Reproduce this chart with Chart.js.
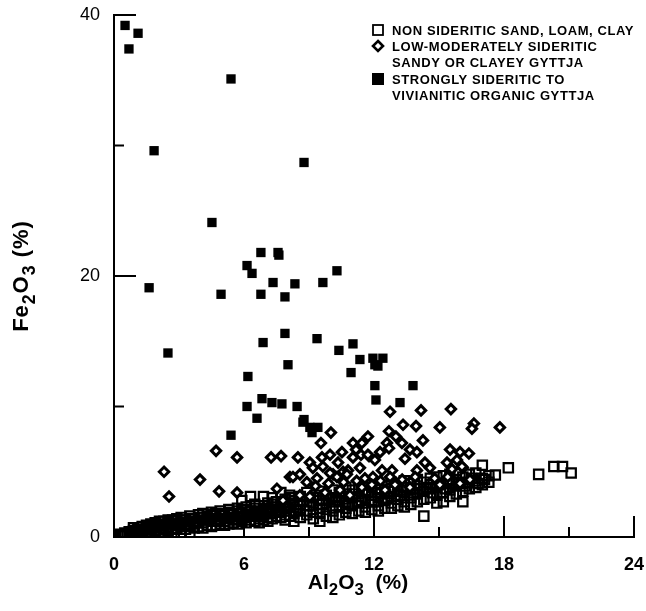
<!DOCTYPE html>
<html>
<head>
<meta charset="utf-8">
<script src="https://cdn.jsdelivr.net/npm/chart.js@4.4.0/dist/chart.umd.min.js"></script>
<style>
  html, body { margin: 0; padding: 0; background: #fff; }
  #wrap { width: 646px; height: 611px; }
</style>
</head>
<body>
<div id="wrap"><canvas id="chart" width="646" height="611"></canvas></div>
<script>
// DATA

const legendLabels = [
    ["NON SIDERITIC SAND, LOAM, CLAY"],
    ["LOW-MODERATELY SIDERITIC", "SANDY OR CLAYEY GYTTJA"],
    ["STRONGLY SIDERITIC TO", "VIVIANITIC ORGANIC GYTTJA"]
];
const xMajorTicks = [0, 6, 12, 18, 24];
const xMinorTicks = [3, 9, 15, 21];
const yMajorTicks = [0, 20, 40];
const yMinorTicks = [10, 30];

// open squares: Al2O3, Fe2O3
const nonSideritic = [
    [0.3,0.1],[0.3,0.2],[0.5,0.1],[0.5,0.3],[0.7,0.2],[0.7,0.4],[0.9,0.2],[0.9,0.5],[0.9,0.7],
    [1.1,0.3],[1.1,0.6],[1.3,0.3],[1.3,0.5],[1.3,0.8],[1.5,0.4],[1.5,0.7],[1.5,0.9],
    [1.7,0.4],[1.7,0.6],[1.7,1.0],[1.9,0.5],[1.9,0.8],[1.9,1.1],[2.1,0.4],[2.1,0.7],[2.1,1.2],
    [2.3,0.6],[2.3,0.9],[2.3,1.2],[2.5,0.5],[2.5,0.8],[2.5,1.1],[2.5,1.3],[2.7,0.6],[2.7,1.0],[2.7,1.3],
    [2.9,0.7],[2.9,0.9],[2.9,1.4],[3.1,0.3],[3.1,0.8],[3.1,1.1],[3.1,1.5],[3.3,0.6],[3.3,1.0],[3.3,1.3],
    [3.5,0.3],[3.5,0.8],[3.5,1.2],[3.5,1.6],[3.7,0.7],[3.7,1.0],[3.7,1.4],[3.9,0.8],[3.9,1.2],[3.9,1.7],
    [4.1,0.7],[4.1,1.1],[4.1,1.5],[4.1,1.8],[4.3,0.9],[4.3,1.3],[4.3,1.6],[4.5,0.8],[4.5,1.2],[4.5,1.7],[4.5,1.9],
    [4.7,0.9],[4.7,1.4],[4.7,1.8],[4.9,1.0],[4.9,1.3],[4.9,1.6],[4.9,2.0],[5.1,0.9],[5.1,1.2],[5.1,1.7],
    [5.3,1.0],[5.3,1.5],[5.3,1.9],[5.3,2.1],[5.5,1.1],[5.5,1.4],[5.5,1.8],[5.7,1.0],[5.7,1.6],[5.7,2.0],[5.7,2.2],
    [5.9,1.2],[5.9,1.5],[5.9,1.9],[5.9,2.8],[6.1,1.1],[6.1,1.7],[6.1,2.1],[6.1,2.3],[6.3,1.3],[6.3,1.6],[6.3,2.0],[6.3,3.1],
    [6.5,1.2],[6.5,1.8],[6.5,2.2],[6.5,2.5],[6.7,1.4],[6.7,1.1],[6.7,1.9],[6.7,2.4],[6.9,1.3],[6.9,1.7],[6.9,2.1],[6.9,3.1],
    [7.1,1.5],[7.1,1.2],[7.1,2.0],[7.1,2.6],[7.3,1.4],[7.3,1.8],[7.3,2.3],[7.3,3.0],[7.5,1.6],[7.5,2.1],[7.5,2.7],
    [7.7,1.5],[7.7,1.9],[7.7,2.4],[7.7,3.4],[7.9,1.3],[7.9,1.7],[7.9,2.2],[7.9,2.9],[8.1,1.6],[8.1,2.0],[8.1,2.6],[8.1,3.2],
    [8.3,1.2],[8.3,1.8],[8.3,2.3],[8.3,2.8],[8.6,1.5],[8.6,2.1],[8.6,2.5],[8.6,3.1],[8.9,1.7],[8.9,2.0],[8.9,2.7],[8.9,3.4],
    [9.2,1.4],[9.2,1.9],[9.2,2.4],[9.2,3.0],[9.5,1.2],[9.5,1.8],[9.5,2.2],[9.5,2.8],[9.5,3.5],[9.8,1.6],[9.8,2.1],[9.8,2.6],[9.8,3.2],
    [10.1,1.5],[10.1,2.0],[10.1,2.4],[10.1,3.0],[10.1,3.6],[10.4,1.7],[10.4,2.3],[10.4,2.8],[10.4,3.4],
    [10.7,1.9],[10.7,2.2],[10.7,2.7],[10.7,3.3],[10.7,3.8],[11.0,1.8],[11.0,2.4],[11.0,3.0],[11.0,3.6],
    [11.3,2.0],[11.3,2.6],[11.3,3.1],[11.3,3.7],[11.6,1.9],[11.6,2.3],[11.6,2.9],[11.6,3.5],[11.6,4.0],
    [11.9,2.1],[11.9,2.7],[11.9,3.2],[11.9,3.8],[12.2,2.0],[12.2,2.4],[12.2,3.0],[12.2,3.6],[12.2,4.1],
    [12.5,2.2],[12.5,2.8],[12.5,3.4],[12.5,3.9],[12.8,2.2],[12.8,2.6],[12.8,3.1],[12.8,3.7],[12.8,4.2],
    [13.1,2.4],[13.1,2.9],[13.1,3.5],[13.1,4.0],[13.4,2.3],[13.4,2.7],[13.4,3.2],[13.4,3.8],[13.4,4.3],
    [13.7,2.5],[13.7,3.0],[13.7,3.6],[13.7,4.1],[14.0,2.7],[14.0,3.3],[14.0,3.9],[14.0,4.4],
    [14.3,1.6],[14.3,2.9],[14.3,3.5],[14.3,4.2],[14.6,3.0],[14.6,3.7],[14.6,4.0],[14.6,4.5],
    [14.9,2.6],[14.9,3.2],[14.9,3.8],[14.9,4.6],[15.2,2.7],[15.2,3.4],[15.2,4.1],[15.2,4.7],
    [15.5,3.1],[15.5,3.6],[15.5,4.3],[15.5,4.8],[15.8,3.3],[15.8,3.9],[15.8,4.4],[15.8,4.9],
    [16.1,2.7],[16.1,3.5],[16.1,4.1],[16.1,4.6],[16.4,3.7],[16.4,4.2],[16.4,4.8],[16.7,3.8],[16.7,4.3],[16.7,4.9],
    [17.0,4.0],[17.0,4.5],[17.0,5.5],[17.3,4.2],[17.3,4.7],[17.6,4.75],
    [18.2,5.3],[19.6,4.8],[20.3,5.4],[20.7,5.4],[21.1,4.9],
    [0.4,0.15],[0.6,0.25],[0.8,0.35],[1.0,0.4],[1.2,0.5],[1.4,0.6],[1.6,0.8],[1.8,0.7],[2.0,0.9],[2.2,1.0],
    [2.4,0.7],[2.6,1.0],[2.8,1.2],[3.0,1.0],[3.2,1.3],[3.4,0.9],[3.6,1.4],[3.8,1.1],[4.0,1.5],[4.2,1.3],
    [4.4,1.4],[4.6,1.6],[4.8,1.2],[5.0,1.8],[5.2,1.4],[5.4,1.7],[5.6,1.3],[5.8,1.8],[6.0,1.5],[6.2,1.9],
    [6.4,1.7],[6.6,2.0],[6.8,1.6],[7.0,2.2],[7.2,1.8],[7.4,2.5],[7.6,2.0],[7.8,2.6],[8.0,2.3],[8.2,3.0],
    [8.4,2.0],[8.7,2.8],[9.0,2.4],[9.3,3.2],[9.6,2.5],[9.9,2.9],[10.2,2.7],[10.5,3.1],[10.8,2.5],[11.1,3.3],
    [11.4,2.8],[11.7,3.4],[12.0,2.7],[12.3,3.3],[12.6,3.0],[12.9,3.5],[13.2,3.2],[13.5,3.6],[13.8,3.4],[14.1,3.7],
    [14.4,3.8],[14.7,3.4],[15.0,4.0],[15.3,3.7],[15.6,4.1],[15.9,4.2],[16.2,3.9],[16.5,4.5],[16.8,4.1],[17.1,4.4]
];

// open diamonds
const lowModSideritic = [
    [4.71,6.6],[5.68,6.1],[2.31,5.0],[3.97,4.4],[2.54,3.1],[4.85,3.5],[5.68,3.4],[7.25,6.1],[7.71,6.2],
    [8.12,4.6],[7.52,3.7],[8.49,6.1],[12.74,9.6],[14.17,9.7],[15.55,9.8],[13.34,8.6],[13.94,8.5],
    [15.04,8.4],[16.61,8.7],[16.52,8.3],[10.01,8.0],[9.55,7.2],[10.52,6.5],[11.03,7.2],[11.44,7.2],
    [11.72,7.7],[12.69,8.1],[13.01,7.7],[12.60,7.2],[13.29,7.2],[14.26,7.4],[11.17,6.7],[11.40,6.3],
    [11.77,6.2],[12.28,6.5],[12.69,6.8],[13.66,6.7],[13.98,6.5],[15.51,6.7],[15.97,6.5],[16.38,6.4],
    [9.04,5.7],[9.60,6.1],[9.97,6.3],[10.34,5.7],[11.03,6.1],[11.72,6.3],[12.04,5.9],[13.43,6.0],
    [14.35,5.7],[15.37,5.7],[15.83,5.9],[16.10,5.3],[15.60,5.2],[9.18,5.3],[9.64,5.4],[10.11,4.8],
    [10.57,5.0],[10.80,5.1],[11.35,5.3],[12.37,5.1],[12.83,5.1],[13.98,5.1],[14.58,5.3],[8.26,4.6],
    [8.58,4.8],[9.37,4.5],[9.97,4.9],[10.29,4.6],[10.75,4.8],[11.58,4.5],[12.74,4.6],[11.95,4.6],
    [17.81,8.4],[16.06,5.4],[7.80,2.8],[8.58,3.2],[9.04,3.1],[9.74,3.4],[10.43,3.6],[10.89,3.2],
    [11.44,3.8],[12.51,3.6],[12.97,4.0],[13.66,3.8],[15.04,4.0],[15.97,4.1],[16.43,4.4],
    [8.9,4.2],[9.3,3.9],[9.9,4.1],[10.6,4.2],[11.2,4.3],[11.9,4.0],[12.3,4.3],[13.3,4.4],[13.9,4.6],
    [14.8,4.5],[15.4,4.6]
];

// filled squares
const strongSideritic = [
    [0.51,39.2],[1.11,38.6],[0.69,37.4],[5.40,35.1],[1.85,29.6],[8.77,28.7],[4.52,24.1],[1.62,19.1],
    [4.94,18.6],[6.78,21.8],[7.57,21.8],[7.61,21.6],[6.14,20.8],[6.37,20.2],[7.34,19.5],[8.35,19.4],
    [9.64,19.5],[10.29,20.4],[6.78,18.6],[7.89,18.4],[6.88,14.9],[7.89,15.6],[9.37,15.2],[10.38,14.3],
    [11.03,14.8],[11.35,13.6],[11.95,13.7],[12.41,13.7],[12.04,13.2],[12.18,13.1],[8.03,13.2],
    [10.94,12.6],[6.18,12.3],[12.04,11.6],[13.80,11.6],[12.09,10.5],[13.20,10.3],[6.14,10.0],
    [6.83,10.6],[7.29,10.3],[7.75,10.2],[8.45,10.0],[6.60,9.1],[8.77,9.0],[2.49,14.1],[5.40,7.8],
    [8.72,8.8],[9.04,8.4],[9.41,8.4],[9.14,8.0]
];

function toPoints(list) {
    return list.map(p => ({ x: p[0], y: p[1] }));
}

const FONT = "'Liberation Sans', Arial, Helvetica, sans-serif";

// draws text with subscript parts
function drawRich(ctx, parts, x, y, size) {
    let cx = x;
    parts.forEach(p => {
        const s = p.sub ? size * 0.8 : size;
        ctx.font = "bold " + s + "px " + FONT;
        ctx.fillText(p.t, cx, p.sub ? y + size * 0.35 : y);
        cx += ctx.measureText(p.t).width;
    });
}

function richWidth(ctx, parts, size) {
    let w = 0;
    parts.forEach(p => {
        const s = p.sub ? size * 0.8 : size;
        ctx.font = "bold " + s + "px " + FONT;
        w += ctx.measureText(p.t).width;
    });
    return w;
}

const xTitle = [{t: "Al"}, {t: "2", sub: true}, {t: "O"}, {t: "3", sub: true}, {t: "  (%)"}];
const yTitle = [{t: "Fe"}, {t: "2", sub: true}, {t: "O"}, {t: "3", sub: true}, {t: " (%)"}];

const decorPlugin = {
    id: "decor",
    afterDraw(chart) {
        const ctx = chart.ctx;
        const xs = chart.scales.x;
        const ys = chart.scales.y;
        const x0 = xs.getPixelForValue(0);
        const y0 = ys.getPixelForValue(0);

        ctx.save();
        ctx.strokeStyle = "#000";
        ctx.fillStyle = "#000";

        // inward ticks
        ctx.lineWidth = 2;
        ctx.beginPath();
        xMajorTicks.slice(1).forEach(v => {
            const px = xs.getPixelForValue(v);
            ctx.moveTo(px, y0);
            ctx.lineTo(px, y0 - 21);
        });
        xMinorTicks.forEach(v => {
            const px = xs.getPixelForValue(v);
            ctx.moveTo(px, y0);
            ctx.lineTo(px, y0 - 10);
        });
        yMajorTicks.slice(1).forEach(v => {
            const py = ys.getPixelForValue(v);
            ctx.moveTo(x0, py);
            ctx.lineTo(x0 + 22, py);
        });
        yMinorTicks.forEach(v => {
            const py = ys.getPixelForValue(v);
            ctx.moveTo(x0, py);
            ctx.lineTo(x0 + 10, py);
        });
        ctx.stroke();

        // axis titles
        ctx.textBaseline = "middle";
        ctx.textAlign = "left";
        const tw = richWidth(ctx, xTitle, 21);
        drawRich(ctx, xTitle, 358 - tw / 2, 583, 21);

        ctx.save();
        ctx.translate(22, 276);
        ctx.rotate(-Math.PI / 2);
        ctx.letterSpacing = "1px";
        const yw = richWidth(ctx, yTitle, 22);
        drawRich(ctx, yTitle, -yw / 2, 0, 22);
        ctx.letterSpacing = "0px";
        ctx.restore();

        // legend
        const lx = 378;
        const tx = 392;
        const rows = [30, 46, 79];
        ctx.font = "bold 13px " + FONT;
        ctx.letterSpacing = "0.6px";
        legendLabels.forEach((lines, i) => {
            lines.forEach((line, j) => {
                ctx.fillText(line, tx, rows[i] + j * 16 + 1);
            });
        });
        ctx.letterSpacing = "0px";

        // legend symbols
        ctx.lineWidth = 1.8;
        ctx.strokeRect(lx - 5, rows[0] - 5, 10, 10);
        ctx.lineWidth = 2.6;
        ctx.beginPath();
        ctx.moveTo(lx, rows[1] - 5);
        ctx.lineTo(lx + 5, rows[1]);
        ctx.lineTo(lx, rows[1] + 5);
        ctx.lineTo(lx - 5, rows[1]);
        ctx.closePath();
        ctx.stroke();
        ctx.fillRect(lx - 6, rows[2] - 6, 12, 12);

        ctx.restore();
    }
};

new Chart(document.getElementById("chart"), {
    type: "scatter",
    data: {
        datasets: [
            {
                label: legendLabels[2].join(" "),
                data: toPoints(strongSideritic),
                pointStyle: "rect",
                pointRadius: 6.6,
                backgroundColor: "#000",
                borderColor: "#000",
                borderWidth: 0,
                order: 1
            },
            {
                label: legendLabels[1].join(" "),
                data: toPoints(lowModSideritic),
                pointStyle: "rectRot",
                pointRadius: 4.7,
                backgroundColor: "#fff",
                borderColor: "#000",
                borderWidth: 3,
                order: 2
            },
            {
                label: legendLabels[0].join(" "),
                data: toPoints(nonSideritic),
                pointStyle: "rect",
                pointRadius: 6.6,
                backgroundColor: "rgba(255,255,255,0)",
                borderColor: "#000",
                borderWidth: 2.2,
                order: 3
            }
        ]
    },
    options: {
        responsive: false,
        devicePixelRatio: 1,
        animation: false,
        layout: {
            padding: { top: 15, right: 12, left: 0, bottom: 0 }
        },
        plugins: {
            legend: { display: false },
            tooltip: { enabled: false }
        },
        scales: {
            x: {
                type: "linear",
                min: 0,
                max: 24,
                afterFit(scale) {
                    scale.height = 74;
                    scale.paddingLeft = 0;
                    scale.paddingRight = 0;
                },
                afterBuildTicks(scale) { scale.ticks = xMajorTicks.map(v => ({ value: v })); },
                ticks: {
                    color: "#000",
                    padding: 17,
                    font: { family: FONT, size: 18, weight: "bold" },
                    maxRotation: 0
                },
                grid: { display: false, drawTicks: false },
                border: { display: true, color: "#000", width: 2 }
            },
            y: {
                min: 0,
                max: 40,
                afterFit(scale) {
                    scale.width = 114;
                    scale.paddingTop = 0;
                    scale.paddingBottom = 0;
                },
                afterBuildTicks(scale) { scale.ticks = yMajorTicks.map(v => ({ value: v })); },
                ticks: {
                    color: "#000",
                    padding: 14,
                    font: { family: FONT, size: 18 }
                },
                grid: { display: false, drawTicks: false },
                border: { display: true, color: "#000", width: 2 }
            }
        }
    },
    plugins: [decorPlugin]
});
</script>
</body>
</html>
